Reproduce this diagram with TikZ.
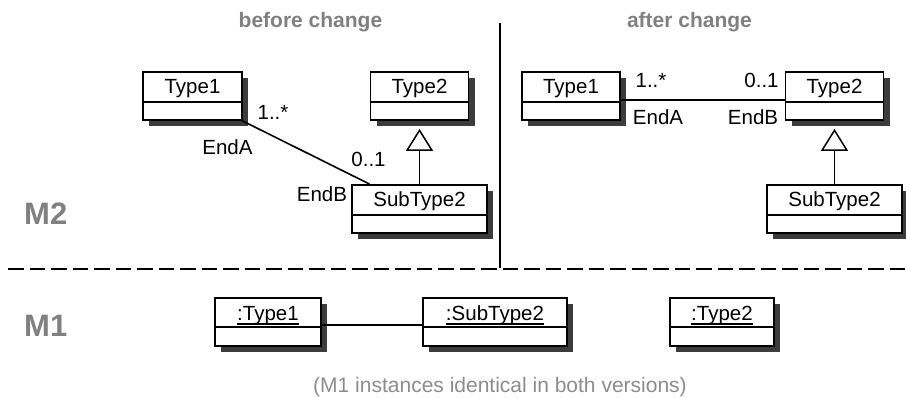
\documentclass[tikz,border=0pt]{standalone}
\usepackage{fontspec}
\setmainfont{Liberation Sans}
\usetikzlibrary{arrows.meta,shadows}
\newsavebox\ulbox
\newcommand\myuline[1]{\sbox\ulbox{#1}\rlap{\rule[-4.5pt]{\wd\ulbox}{1.8pt}}\usebox\ulbox}
\definecolor{titlegray}{HTML}{808080}
\definecolor{capgray}{HTML}{8C8C8C}
\definecolor{shadowgray}{HTML}{3C3C3C}
\begin{document}
\begin{tikzpicture}[x=1pt,y=-1pt,
  every node/.style={font=\fontsize{20.5}{24}\selectfont},
  cls/.style={draw, line width=1.8pt, fill=white, minimum height=48pt, inner sep=0pt,
    drop shadow={shadow xshift=6pt, shadow yshift=-6pt, fill=shadowgray, opacity=1}},
  divl/.style={line width=1.4pt},
  cltxt/.style={anchor=base, inner sep=0pt},
  lbl/.style={anchor=base, inner sep=0pt},
  ttl/.style={anchor=base, inner sep=0pt, text=titlegray, font=\fontsize{21}{25}\selectfont\bfseries},
  lvl/.style={anchor=base west, inner sep=0pt, text=titlegray, font=\fontsize{31}{36}\selectfont\bfseries},
  assoc/.style={line width=1.6pt},
  gen/.style={line width=1.6pt, shorten >=8pt, -{Triangle[length=22pt, width=27pt, fill=white, line width=1.5pt]}},
  sepl/.style={line width=1.5pt},
  mline/.style={line width=2pt, dash pattern=on 15.5pt off 6pt}]
\useasboundingbox (0,0) rectangle (906,398);

% titles
\node[ttl] (hb) at (310.5,28) {before change};
\node[ttl] (ha) at (689.5,28) {after change};
\node[lvl] (m2) at (24,225) {M2};
\node[lvl] (m1) at (24,337) {M1};

% separators
\draw[sepl] (500,23) -- (500,268);
\draw[mline] (8,269) -- (906,269);

% ---- before change ----
\node[cls, minimum width=99pt] (bt1) at (192.5,96) {};
\node[cls, minimum width=98pt] (bt2) at (419.5,96) {};
\node[cls, minimum width=135pt] (bs2) at (419.5,209) {};
\foreach \n/\t in {bt1/Type1, bt2/Type2, bs2/SubType2}{
  \draw[divl] ([yshift=-31pt]\n.north west) -- ([yshift=-31pt]\n.north east);
  \node[cltxt] (\n-name) at ([yshift=-22pt]\n.north) {\t};
}
\draw[assoc] (bt1) -- (bs2);
\draw[gen] (bs2) -- (bt2);
\node[lbl] (bma) at (273,120) {1..*};
\node[lbl] (bea) at (227.5,155) {EndA};
\node[lbl] (bmb) at (368.5,167) {0..1};
\node[lbl] (beb) at (322,202) {EndB};

% ---- after change ----
\node[cls, minimum width=98pt] (at1) at (571,96) {};
\node[cls, minimum width=98pt] (at2) at (834.5,96) {};
\node[cls, minimum width=135pt] (as2) at (834.5,209) {};
\foreach \n/\t in {at1/Type1, at2/Type2, as2/SubType2}{
  \draw[divl] ([yshift=-31pt]\n.north west) -- ([yshift=-31pt]\n.north east);
  \node[cltxt] (\n-name) at ([yshift=-22pt]\n.north) {\t};
}
\draw[assoc] ([yshift=-4pt]at1.east) -- ([yshift=-4pt]at2.west);
\draw[gen] (as2) -- (at2);
\node[lbl] (ama) at (651,88) {1..*};
\node[lbl] (amb) at (761.5,88) {0..1};
\node[lbl] (aea) at (658,125) {EndA};
\node[lbl] (aeb) at (753,125) {EndB};

% ---- M1 instances ----
\node[cls, minimum width=106pt] (o1) at (268,322) {};
\node[cls, minimum width=144pt] (o2) at (495,322) {};
\node[cls, minimum width=104pt] (o3) at (722,322) {};
\foreach \n/\t in {o1/:Type1, o2/:SubType2, o3/:Type2}{
  \draw[divl] ([yshift=-30pt]\n.north west) -- ([yshift=-30pt]\n.north east);
  \node[cltxt] (\n-name) at ([yshift=-23pt]\n.north) {\myuline{\t}};
}
\draw[assoc] ([yshift=-3pt]o1.east) -- ([yshift=-3pt]o2.west);

% caption
\node[anchor=base, inner sep=0pt, text=capgray, font=\fontsize{21}{25}\selectfont] (cap) at (500,392) {(M1 instances identical in both versions)};
\end{tikzpicture}
\end{document}
